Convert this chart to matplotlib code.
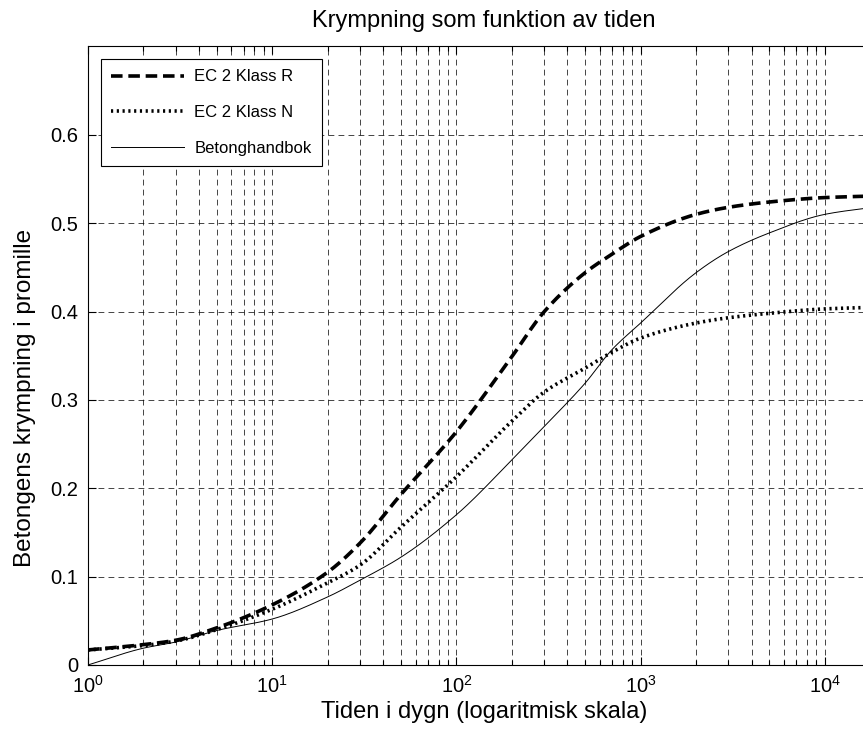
import numpy as np
import matplotlib
matplotlib.use("Agg")
import matplotlib.pyplot as plt
from matplotlib.ticker import LogLocator, NullFormatter

plt.rcParams["font.family"] = ["Liberation Sans", "DejaVu Sans"]
plt.rcParams["mathtext.fontset"] = "custom"
plt.rcParams["mathtext.rm"] = "Liberation Sans"
plt.rcParams["mathtext.it"] = "Liberation Sans"

# Time in days (log scale) and shrinkage in per mille
t_days = [1, 2, 3, 5, 10, 20, 30, 50, 100, 200, 300, 500, 700, 1000,
          2000, 3000, 5000, 10000, 20000]
ec2_r = [0.017, 0.023, 0.028, 0.042, 0.068, 0.105, 0.138, 0.193, 0.264,
         0.349, 0.400, 0.444, 0.465, 0.485, 0.510, 0.518, 0.524, 0.529, 0.531]
ec2_n = [0.017, 0.022, 0.027, 0.040, 0.063, 0.093, 0.113, 0.156, 0.213,
         0.276, 0.309, 0.336, 0.354, 0.370, 0.387, 0.393, 0.398, 0.403, 0.405]
betong = [0.000, 0.019, 0.026, 0.039, 0.052, 0.077, 0.096, 0.122, 0.170,
          0.232, 0.270, 0.319, 0.357, 0.387, 0.444, 0.468, 0.489, 0.510, 0.519]

labels = ["EC 2 Klass R", "EC 2 Klass N", "Betonghandbok"]
yticks = [0, 0.1, 0.2, 0.3, 0.4, 0.5, 0.6]
ytick_labels = ["0", "0.1", "0.2", "0.3", "0.4", "0.5", "0.6"]

fig = plt.figure(figsize=(8.63, 7.38), dpi=100)
# axes run slightly past the right edge of the canvas
ax = fig.add_axes([0.102, 0.099, 0.918, 0.838])

# monotone cubic interpolation in log-time for smooth curves
tt = np.logspace(0, np.log10(t_days[-1]), 400)
lt = np.log10(tt)
lx = np.log10(t_days)


def smooth(vals):
    x = np.asarray(lx)
    y = np.asarray(vals)
    h = np.diff(x)
    d = np.diff(y) / h
    m = np.zeros_like(y)
    for i in range(1, len(y) - 1):
        if d[i - 1] * d[i] > 0:
            w1 = 2 * h[i] + h[i - 1]
            w2 = h[i] + 2 * h[i - 1]
            m[i] = (w1 + w2) / (w1 / d[i - 1] + w2 / d[i])
    m[0] = d[0]
    m[-1] = d[-1]
    out = np.empty_like(lt)
    for j, xv in enumerate(lt):
        k = min(np.searchsorted(x, xv, side="right") - 1, len(x) - 2)
        k = max(k, 0)
        s = (xv - x[k]) / h[k]
        h00 = 2 * s**3 - 3 * s**2 + 1
        h10 = s**3 - 2 * s**2 + s
        h01 = -2 * s**3 + 3 * s**2
        h11 = s**3 - s**2
        out[j] = h00 * y[k] + h10 * h[k] * m[k] + h01 * y[k + 1] + h11 * h[k] * m[k + 1]
    return out


ax.plot(tt, smooth(ec2_r), color="black", lw=2.6, ls=(0, (3.2, 1.6)), label=labels[0])
ax.plot(tt, smooth(ec2_n), color="black", lw=2.6, ls=(0, (0.6, 1.0)), label=labels[1])
ax.plot(tt, smooth(betong), color="black", lw=0.7, ls="-", label=labels[2])

ax.set_xscale("log")
ax.set_xlim(1, t_days[-1])
ax.set_ylim(0, 0.7)
ax.set_yticks(yticks)
ax.set_yticklabels(ytick_labels)
ax.xaxis.set_major_locator(LogLocator(base=10, numticks=10))
ax.xaxis.set_minor_locator(LogLocator(base=10, subs=np.arange(2, 10), numticks=20))
ax.xaxis.set_minor_formatter(NullFormatter())

ax.grid(True, which="major", axis="both", color="black", lw=0.6, ls=(0, (7, 5)), alpha=0.85)
ax.grid(True, which="minor", axis="x", color="black", lw=0.6, ls=(0, (7, 5)), alpha=0.85)

ax.tick_params(which="both", direction="in", top=True, right=True, labelsize=14.5, pad=7)
ax.tick_params(which="major", length=6, width=0.8)
ax.tick_params(which="minor", length=3.5, width=0.8)
for sp in ax.spines.values():
    sp.set_linewidth(0.8)

ax.set_title("Krympning som funktion av tiden", fontsize=17, pad=14)
ax.set_xlabel("Tiden i dygn (logaritmisk skala)", fontsize=17, labelpad=3)
ax.set_ylabel("Betongens krympning i promille", fontsize=17.5)
ax.yaxis.set_label_coords(-0.066, 0.432)

leg = ax.legend(loc="upper left", fontsize=12, frameon=True, fancybox=False,
                edgecolor="black", framealpha=1, borderaxespad=0.78,
                handlelength=4.4, handletextpad=0.6, labelspacing=1.25,
                borderpad=0.6)
leg.get_frame().set_linewidth(0.8)

fig.savefig("out.png", dpi=100)
